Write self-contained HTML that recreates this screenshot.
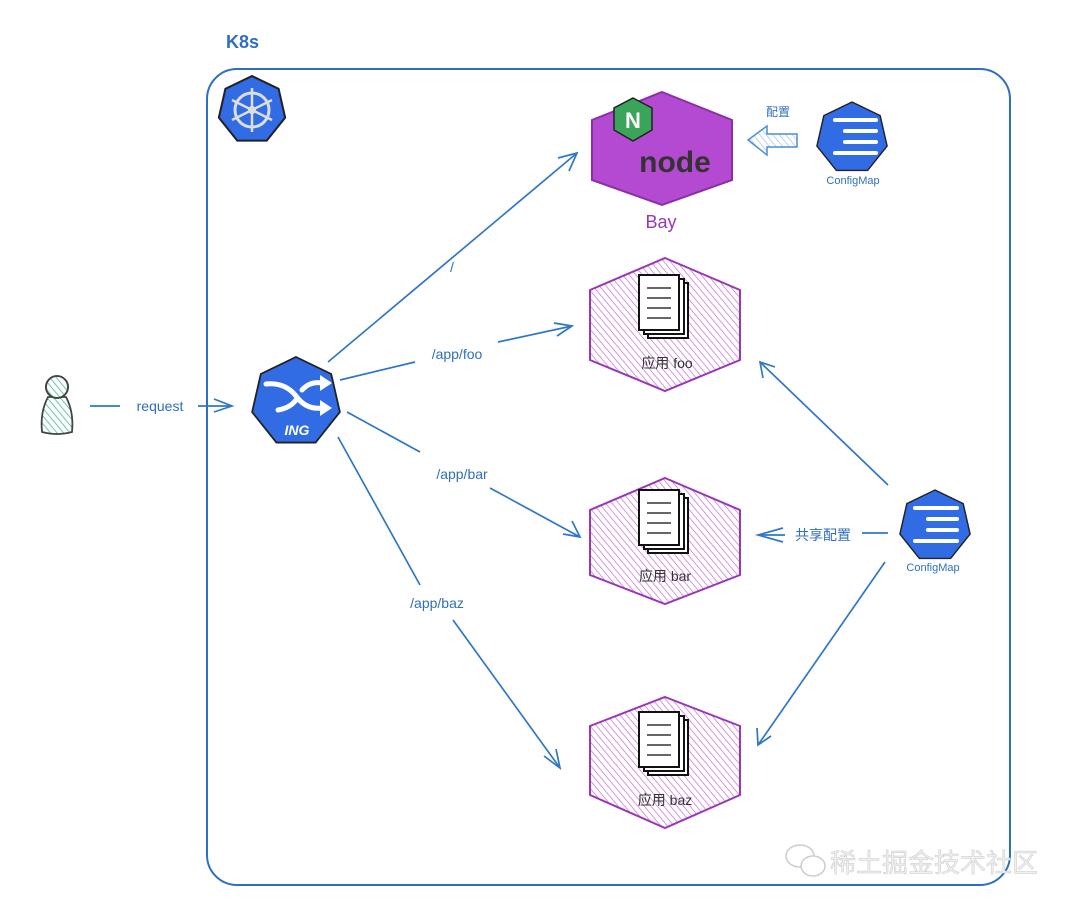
<!DOCTYPE html>
<html><head><meta charset="utf-8"><style>
html,body{margin:0;padding:0;background:#fff;}
svg{display:block;}
text{font-family:"Liberation Sans","Noto Sans CJK SC",sans-serif;}
</style></head><body>
<svg width="1080" height="910" viewBox="0 0 1080 910" xmlns="http://www.w3.org/2000/svg">
<defs>
<pattern id="ph" width="5" height="5" patternUnits="userSpaceOnUse" patternTransform="rotate(-40)">
<line x1="0" y1="0" x2="0" y2="5" stroke="#c26ad6" stroke-width="1.4"/></pattern>
<pattern id="gh" width="5" height="5" patternUnits="userSpaceOnUse" patternTransform="rotate(-40)">
<line x1="0" y1="0" x2="0" y2="5" stroke="#3cbf8a" stroke-width="1.6"/></pattern>
<pattern id="bh" width="5" height="5" patternUnits="userSpaceOnUse" patternTransform="rotate(-40)">
<line x1="0" y1="0" x2="0" y2="5" stroke="#8fbfe8" stroke-width="1.3"/></pattern>
<polygon id="hept" points="0,-1 0.782,-0.623 0.975,0.223 0.434,0.901 -0.434,0.901 -0.975,0.223 -0.782,-0.623"/>
</defs>

<text x="226" y="48" font-size="18" fill="#2f6fbf" font-weight="bold">K8s</text>
<rect x="207" y="69" width="803" height="816" rx="30" fill="none" stroke="#2f6fbf" stroke-width="2"/>

<!-- k8s logo -->
<g transform="translate(252,110) scale(34)"><use href="#hept" fill="#326ce5" stroke="#222" stroke-width="0.06"/></g>
<circle cx="252" cy="110" r="17" fill="none" stroke="#ddd" stroke-width="3"/>
<g stroke="#ddd" stroke-width="2.5"><line x1="252" y1="88" x2="252" y2="132"/><line x1="232" y1="100" x2="272" y2="120"/><line x1="232" y1="120" x2="272" y2="100"/></g>
<circle cx="252" cy="110" r="4" fill="#ddd"/>

<!-- Bay -->
<polygon points="662,92 732,120 732,180 662,205 592,180 592,120" fill="#b44ad1" stroke="#8a2fa6" stroke-width="2"/>
<polygon points="633,98 652,108 652,130 633,141 614,130 614,108" fill="#3aa55a" stroke="#222" stroke-width="1.5"/>
<text x="633" y="128" font-size="22" fill="#fff" text-anchor="middle" font-weight="bold">N</text>
<text x="675" y="172" font-size="30" fill="#333" text-anchor="middle" font-weight="bold">node</text>
<text x="661" y="228" font-size="18" fill="#9b35b8" text-anchor="middle">Bay</text>

<!-- app hexes -->
<g>
<polygon points="665,258 740,290 740,360 665,391 590,360 590,290" fill="url(#ph)" stroke="#9b35b8" stroke-width="2"/>
<polygon points="665,478 740,510 740,575 665,604 590,575 590,510" fill="url(#ph)" stroke="#9b35b8" stroke-width="2"/>
<polygon points="665,697 740,726 740,795 665,828 590,795 590,726" fill="url(#ph)" stroke="#9b35b8" stroke-width="2"/>
</g>
<g fill="#fff" stroke="#111" stroke-width="2">
<rect x="648" y="283" width="40" height="55"/><rect x="644" y="279" width="40" height="55"/><rect x="639" y="275" width="40" height="55"/>
<rect x="648" y="498" width="40" height="55"/><rect x="644" y="494" width="40" height="55"/><rect x="639" y="490" width="40" height="55"/>
<rect x="648" y="720" width="40" height="55"/><rect x="644" y="716" width="40" height="55"/><rect x="639" y="712" width="40" height="55"/>
</g>
<g stroke="#333" stroke-width="1.5">
<line x1="647" y1="288" x2="671" y2="288"/><line x1="647" y1="298" x2="671" y2="298"/><line x1="647" y1="308" x2="671" y2="308"/><line x1="647" y1="318" x2="671" y2="318"/>
<line x1="647" y1="503" x2="671" y2="503"/><line x1="647" y1="513" x2="671" y2="513"/><line x1="647" y1="523" x2="671" y2="523"/><line x1="647" y1="533" x2="671" y2="533"/>
<line x1="647" y1="725" x2="671" y2="725"/><line x1="647" y1="735" x2="671" y2="735"/><line x1="647" y1="745" x2="671" y2="745"/><line x1="647" y1="755" x2="671" y2="755"/>
</g>
<g font-size="14" fill="#333" text-anchor="middle">
<text x="667" y="368">应用 foo</text>
<text x="665" y="581">应用 bar</text>
<text x="665" y="805">应用 baz</text>
</g>

<!-- ING -->
<g transform="translate(296,402) scale(45)"><use href="#hept" fill="#326ce5" stroke="#222" stroke-width="0.04"/></g>
<g stroke="#fff" stroke-width="5" fill="none" stroke-linecap="round">
<path d="M266,384 Q285,382 296,396 Q306,410 322,408"/><path d="M278,410 Q290,408 296,400"/><path d="M302,390 Q310,381 322,383"/>
</g>
<g fill="#fff"><polygon points="320,375 332,383 320,391"/><polygon points="320,400 332,408 320,416"/></g>
<text x="297" y="435" font-size="14" fill="#fff" text-anchor="middle" font-weight="bold" font-style="italic">ING</text>

<!-- ConfigMaps -->
<g transform="translate(852,138) scale(36)"><use href="#hept" fill="#326ce5" stroke="#222" stroke-width="0.04"/></g>
<g stroke="#fff" stroke-width="4" stroke-linecap="round">
<line x1="835" y1="120" x2="876" y2="120"/><line x1="845" y1="131" x2="876" y2="131"/><line x1="845" y1="142" x2="876" y2="142"/><line x1="835" y1="153" x2="876" y2="153"/></g>
<text x="853" y="184" font-size="11" fill="#2f6fbf" text-anchor="middle">ConfigMap</text>

<g transform="translate(935,526) scale(36)"><use href="#hept" fill="#326ce5" stroke="#222" stroke-width="0.04"/></g>
<g stroke="#fff" stroke-width="4" stroke-linecap="round">
<line x1="915" y1="508" x2="957" y2="508"/><line x1="928" y1="519" x2="957" y2="519"/><line x1="928" y1="530" x2="957" y2="530"/><line x1="915" y1="541" x2="957" y2="541"/></g>
<text x="933" y="571" font-size="11" fill="#2f6fbf" text-anchor="middle">ConfigMap</text>

<!-- hollow arrow -->
<polygon points="748,140 767,126 767,134 797,134 797,147 767,147 767,155" fill="url(#bh)" stroke="#4a8fd6" stroke-width="1.5"/>
<text x="778" y="116" font-size="12" fill="#2f6fbf" text-anchor="middle">配置</text>

<!-- connectors -->
<g stroke="#2f76c8" stroke-width="1.7" fill="none">
<line x1="90" y1="406" x2="120" y2="406"/><line x1="198" y1="406" x2="232" y2="406"/><polyline points="214,399 232,406 214,412"/>
<line x1="328" y1="362" x2="577" y2="153"/><polyline points="558,158 577,153 569,171"/>
<line x1="340" y1="380" x2="415" y2="362"/><line x1="498" y1="342" x2="572" y2="326"/><polyline points="554,323 572,326 557,336"/>
<line x1="347" y1="412" x2="420" y2="452"/><line x1="490" y1="488" x2="580" y2="537"/><polyline points="572,521 580,537 563,534"/>
<line x1="338" y1="437" x2="420" y2="585"/><line x1="453" y1="620" x2="560" y2="768"/><polyline points="544,756 560,768 556,749"/>
<line x1="888" y1="485" x2="760" y2="362"/><polyline points="763,378 760,362 775,367"/>
<line x1="862" y1="533" x2="888" y2="533"/><line x1="758" y1="535" x2="785" y2="535"/><polyline points="783,528 758,535 783,542"/>
<line x1="885" y1="562" x2="758" y2="745"/><polyline points="757,728 758,745 771,736"/>
</g>
<g font-size="14" fill="#2f6fbf" text-anchor="middle">
<text x="160" y="411">request</text>
<text x="452" y="272">/</text>
<text x="457" y="359">/app/foo</text>
<text x="462" y="479">/app/bar</text>
<text x="437" y="608">/app/baz</text>
<text x="823" y="540">共享配置</text>
</g>

<!-- person -->
<path d="M48,397 Q40,412 42,432 Q57,436 72,432 Q74,412 66,397 Z" fill="url(#gh)" stroke="#444" stroke-width="1.8"/>
<circle cx="57" cy="387" r="11" fill="#fff" stroke="#444" stroke-width="1.8"/>
<circle cx="57" cy="387" r="11" fill="url(#gh)" stroke="#444" stroke-width="1.8"/>

<!-- watermark -->
<text x="830" y="872" font-size="26" fill="#f0f0f0" stroke="#c8c8c8" stroke-width="0.5">稀土掘金技术社区</text>
<ellipse cx="800" cy="856" rx="14" ry="11" fill="#fff" stroke="#ccc" stroke-width="1.5"/>
<ellipse cx="813" cy="866" rx="12" ry="10" fill="#fff" stroke="#ccc" stroke-width="1.5"/>
</svg>
</body></html>
